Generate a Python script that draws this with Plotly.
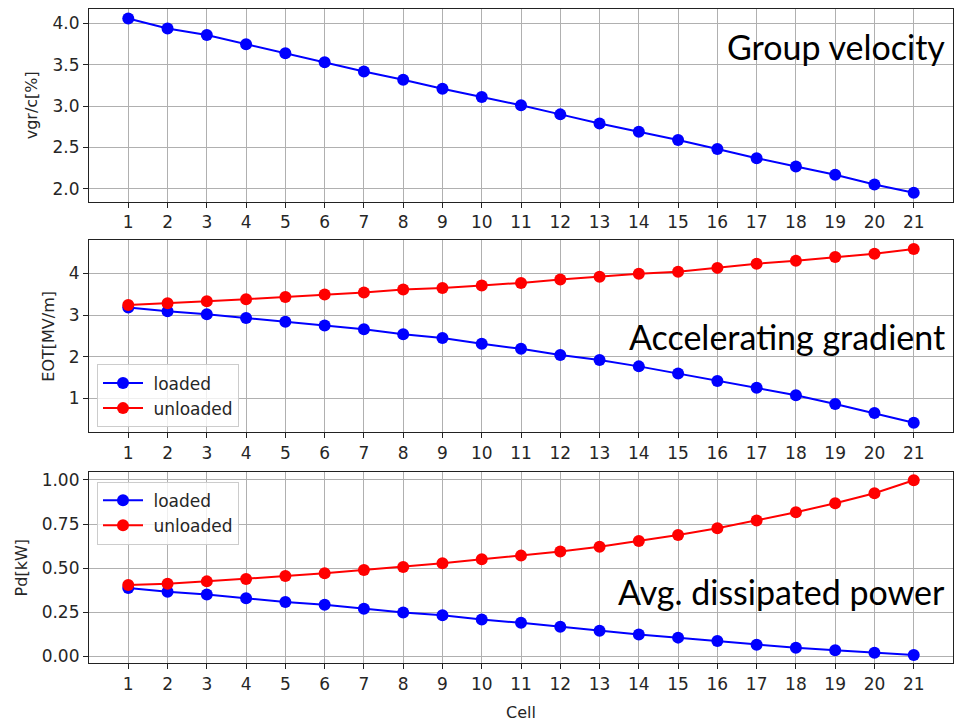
import plotly.graph_objects as go

cells = list(range(1, 22))
tick_labels = [str(c) for c in cells]

vgr = [4.06, 3.94, 3.86, 3.75, 3.64, 3.53, 3.42, 3.32, 3.21, 3.11, 3.01,
       2.90, 2.79, 2.69, 2.59, 2.48, 2.37, 2.27, 2.17, 2.05, 1.95]

e0t_loaded = [3.18, 3.09, 3.02, 2.93, 2.84, 2.75, 2.66, 2.54, 2.45, 2.31, 2.19,
              2.04, 1.92, 1.77, 1.60, 1.42, 1.26, 1.08, 0.87, 0.65, 0.42]
e0t_unloaded = [3.24, 3.28, 3.33, 3.38, 3.43, 3.49, 3.54, 3.61, 3.65, 3.71, 3.77,
                3.85, 3.92, 3.99, 4.04, 4.13, 4.23, 4.30, 4.39, 4.47, 4.58]

pd_loaded = [0.388, 0.366, 0.350, 0.329, 0.308, 0.293, 0.270, 0.249, 0.233, 0.209, 0.190,
             0.168, 0.145, 0.124, 0.106, 0.087, 0.066, 0.048, 0.034, 0.020, 0.007]
pd_unloaded = [0.405, 0.412, 0.425, 0.438, 0.455, 0.471, 0.490, 0.507, 0.528, 0.550, 0.571,
               0.594, 0.621, 0.654, 0.688, 0.726, 0.770, 0.817, 0.868, 0.925, 0.998]

BLUE = "#0000ff"
RED = "#ff0000"
W, H = 954, 722

fig = go.Figure()

def line(x, y, color, name, xa, ya, showlegend, legend):
    return go.Scatter(
        x=x, y=y, mode="lines+markers", name=name,
        line=dict(color=color, width=2),
        marker=dict(color=color, size=12),
        xaxis=xa, yaxis=ya, showlegend=showlegend, legend=legend,
    )

fig.add_trace(line(cells, vgr, BLUE, " loaded", "x", "y", False, "legend"))
fig.add_trace(line(cells, e0t_loaded, BLUE, " loaded", "x2", "y2", True, "legend"))
fig.add_trace(line(cells, e0t_unloaded, RED, " unloaded", "x2", "y2", True, "legend"))
fig.add_trace(line(cells, pd_loaded, BLUE, " loaded", "x3", "y3", True, "legend2"))
fig.add_trace(line(cells, pd_unloaded, RED, " unloaded", "x3", "y3", True, "legend2"))

FONT = dict(family="DejaVu Sans", size=17, color="#262626")
TFONT = dict(family="DejaVu Sans", size=16, color="#262626")

def px_dom(top, bottom):
    return [1 - bottom / H, 1 - top / H]

xdom = [89 / W, 953 / W]
axis_common = dict(
    showline=True, linecolor="#222222", linewidth=1.2, mirror=True,
    ticks="outside", ticklen=5, tickcolor="#222222", tickwidth=1,
    showgrid=True, gridcolor="#b0b0b0", gridwidth=1,
    zeroline=False, tickfont=FONT,
)
xcommon = dict(axis_common, range=[0, 22], tickmode="array",
               tickvals=cells, ticktext=tick_labels, domain=xdom)

fig.update_layout(
    width=W, height=H,
    margin=dict(l=0, r=0, t=0, b=0),
    paper_bgcolor="white", plot_bgcolor="white",
    font=FONT,
    xaxis=dict(xcommon, anchor="y"),
    xaxis2=dict(xcommon, anchor="y2"),
    xaxis3=dict(xcommon, anchor="y3",
                title=dict(text="Cell", font=TFONT, standoff=13)),
    yaxis=dict(axis_common, domain=px_dom(7, 201), anchor="x",
               range=[1.844, 4.176], tickvals=[2.0, 2.5, 3.0, 3.5, 4.0],
               ticktext=["2.0", "2.5", "3.0", "3.5", "4.0"],
               title=dict(text="vgr/c[%]", font=TFONT, standoff=10)),
    yaxis2=dict(axis_common, domain=px_dom(240, 433.3), anchor="x2",
                range=[0.19, 4.79], tickvals=[1, 2, 3, 4],
                title=dict(text="EOT[MV/m]", font=TFONT, standoff=10)),
    yaxis3=dict(axis_common, domain=px_dom(473.3, 666), anchor="x3",
                range=[-0.04, 1.045], tickvals=[0, 0.25, 0.5, 0.75, 1.0],
                ticktext=["0.00", "0.25", "0.50", "0.75", "1.00"],
                title=dict(text="Pd[kW]", font=TFONT, standoff=10)),
    legend=dict(x=97 / W, y=1 - 365 / H, xanchor="left", yanchor="top",
                bgcolor="rgba(255,255,255,0.8)", bordercolor="#cccccc",
                borderwidth=1, font=FONT, tracegroupgap=0, itemwidth=40),
    legend2=dict(x=97 / W, y=1 - 483 / H, xanchor="left", yanchor="top",
                 bgcolor="rgba(255,255,255,0.8)", bordercolor="#cccccc",
                 borderwidth=1, font=FONT, tracegroupgap=0, itemwidth=40),
    showlegend=True,
)

ANN_FONT = dict(family="Lato", size=34, color="black")
for text, yc in [("Group velocity", 45), ("Accelerating gradient", 337),
                 ("Avg. dissipated power", 594)]:
    fig.add_annotation(text=text, xref="paper", yref="paper",
                       x=947 / W, y=1 - yc / H, xanchor="right", yanchor="middle",
                       showarrow=False, font=ANN_FONT)

fig.write_html("out.html", config={"displayModeBar": False},
               post_script="document.body.style.margin='0';document.body.style.overflow='hidden';")
